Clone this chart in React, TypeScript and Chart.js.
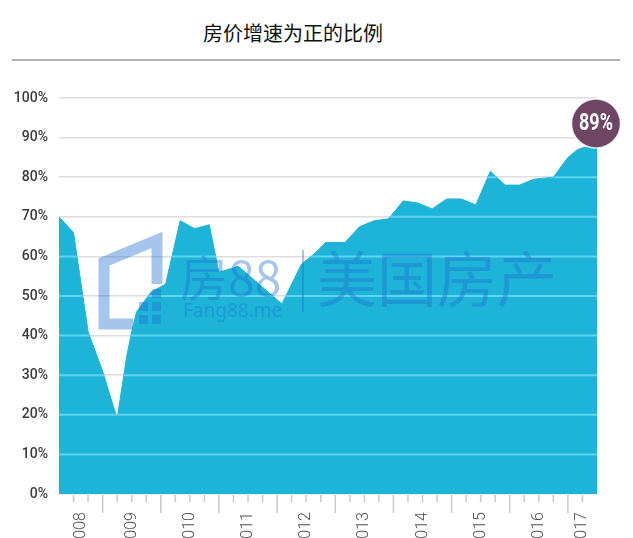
import React, { useEffect, useRef } from 'react';
import { Chart, registerables } from 'chart.js';

Chart.register(...registerables);

// Months counted from January 2008 (0 = 2008-01)
const monthIndex = [3, 6, 9, 12, 15, 17, 18, 19, 22, 25, 28, 31, 34, 36, 40, 49, 53, 56, 58, 62, 65, 68, 71, 74, 77, 80, 83, 86, 89, 92, 95, 98, 101, 105, 108, 110, 114];
// Share of markets with positive house price growth (%)
const shareValues = [70, 66, 41, 31, 19, 35, 41, 46, 51, 53, 69, 67, 68, 56, 57.5, 48, 58, 61, 63.5, 63.5, 67.5, 69, 69.5, 74, 73.5, 72, 74.5, 74.5, 73, 81.5, 78, 78, 79.5, 80, 85, 87, 88.5];
const yearLabels = ['2008', '2009', '2010', '2011', '2012', '2013', '2014', '2015', '2016', '2017'];
const latestLabel = '89%';
const titleText = '房价增速为正的比例';
const watermarkMain = '房88';
const watermarkSub = 'Fang88.me';
const watermarkRight = '美国房产';

const firstMonth = monthIndex[0];
const lastMonth = monthIndex[monthIndex.length - 1];
const labelPositions = yearLabels.map((_, i) => {
  const s = Math.max(i * 12, firstMonth);
  const e = Math.min((i + 1) * 12, lastMonth);
  return (s + e) / 2;
});

const AREA = '#1db4d8';
const INNER_GRID = '#5ed4f0';
const WM = 'rgba(30,110,210,0.40)';

const innerGridPlugin = {
  id: 'innerGrid',
  afterDatasetsDraw(chart: any) {
    const { ctx, chartArea: a, scales } = chart;
    const pts = chart.getDatasetMeta(0).data;
    if (!pts.length) return;
    const base = scales.y.getPixelForValue(0);
    ctx.save();
    ctx.beginPath();
    ctx.moveTo(pts[0].x, base);
    pts.forEach((p: any) => ctx.lineTo(p.x, p.y));
    ctx.lineTo(pts[pts.length - 1].x, base);
    ctx.closePath();
    ctx.clip();
    ctx.strokeStyle = INNER_GRID;
    ctx.lineWidth = 2;
    scales.y.ticks.forEach((t: any) => {
      if (t.value <= 0 || t.value >= 100) return;
      const y = scales.y.getPixelForValue(t.value);
      ctx.beginPath();
      ctx.moveTo(a.left, y);
      ctx.lineTo(a.right, y);
      ctx.stroke();
    });
    ctx.restore();
  },
};

const watermarkPlugin = {
  id: 'watermark',
  afterDatasetsDraw(chart: any) {
    const { ctx, chartArea: a } = chart;
    const ox = a.left;
    const oy = a.top;
    ctx.save();
    ctx.fillStyle = WM;
    ctx.strokeStyle = WM;
    ctx.lineWidth = 11;
    ctx.lineJoin = 'miter';
    ctx.beginPath();
    ctx.moveTo(ox + 74, oy + 226);
    ctx.lineTo(ox + 45, oy + 226);
    ctx.lineTo(ox + 45, oy + 164);
    ctx.lineTo(ox + 98, oy + 142);
    ctx.lineTo(ox + 98, oy + 186);
    ctx.stroke();
    const sq = 9;
    [[93, 191], [93, 204], [93, 217], [80, 204], [80, 217]].forEach(([dx, dy]) => {
      ctx.fillRect(ox + dx, oy + dy, sq, sq);
    });
    ctx.textBaseline = 'alphabetic';
    ctx.textAlign = 'left';
    ctx.font = '48px "Noto Sans CJK SC", "Noto Sans", sans-serif';
    ctx.fillText(watermarkMain, ox + 121, oy + 198);
    ctx.font = '19px "Noto Sans", sans-serif';
    ctx.fillText(watermarkSub, ox + 124, oy + 219);
    ctx.fillRect(ox + 243, oy + 152, 2, 62);
    ctx.font = '60px "Noto Sans CJK SC", sans-serif';
    ctx.fillText(watermarkRight, ox + 258, oy + 204);
    ctx.restore();
  },
};

const quarterTicksPlugin = {
  id: 'quarterTicks',
  afterDraw(chart: any) {
    const { ctx, scales } = chart;
    const x = scales.x;
    const y0 = chart.chartArea.bottom;
    ctx.save();
    ctx.strokeStyle = '#c9c9c9';
    ctx.lineWidth = 1.5;
    for (let m = firstMonth + 1; m < lastMonth; m++) {
      if (m % 3 !== 0) continue;
      const px = x.getPixelForValue(m);
      const len = m % 12 === 0 ? 18 : 7;
      ctx.beginPath();
      ctx.moveTo(px, y0 + 1);
      ctx.lineTo(px, y0 + 1 + len);
      ctx.stroke();
    }
    ctx.restore();
  },
};

const bubblePlugin = {
  id: 'bubble',
  afterDraw(chart: any) {
    const { ctx } = chart;
    const pts = chart.getDatasetMeta(0).data;
    const p = pts[pts.length - 1];
    if (!p) return;
    const r = 24.5;
    const cx = p.x - 1;
    const cy = p.y - 20;
    ctx.save();
    ctx.beginPath();
    ctx.arc(cx, cy, r, 0, Math.PI * 2);
    ctx.fillStyle = '#6e4663';
    ctx.fill();
    ctx.lineWidth = 1.5;
    ctx.strokeStyle = 'rgba(255,255,255,0.8)';
    ctx.stroke();
    ctx.fillStyle = '#ffffff';
    ctx.font = 'bold 23px Roboto, "Noto Sans", sans-serif';
    ctx.textAlign = 'center';
    ctx.textBaseline = 'middle';
    ctx.translate(cx, cy + 1);
    ctx.scale(0.78, 1);
    ctx.fillText(latestLabel, 0, 0);
    ctx.restore();
  },
};

export default function App() {
  const canvasRef = useRef<HTMLCanvasElement | null>(null);

  useEffect(() => {
    if (!canvasRef.current) return;
    const data = monthIndex.map((m, i) => ({ x: m, y: shareValues[i] }));
    const chart = new Chart(canvasRef.current, {
      type: 'line',
      data: {
        datasets: [
          {
            data,
            fill: 'origin',
            backgroundColor: AREA,
            borderColor: AREA,
            borderWidth: 1,
            pointRadius: 0,
            tension: 0,
          },
        ],
      },
      options: {
        animation: false,
        responsive: true,
        maintainAspectRatio: false,
        layout: { padding: { top: 98, left: 0, right: 36, bottom: 0 } },
        plugins: {
          legend: { display: false },
          tooltip: { enabled: false },
          title: { display: false },
        },
        scales: {
          x: {
            type: 'linear',
            min: firstMonth,
            max: lastMonth,
            grid: { display: false, drawTicks: false },
            border: { display: false },
            afterBuildTicks: (scale: any) => {
              scale.ticks = labelPositions.map((value) => ({ value }));
            },
            afterFit: (scale: any) => {
              scale.height = 66;
            },
            ticks: {
              autoSkip: false,
              minRotation: 90,
              maxRotation: 90,
              padding: 18,
              color: '#505050',
              font: { family: 'Roboto, "Noto Sans", sans-serif', size: 16, weight: '300' as any },
              callback: (_v: any, i: number) => yearLabels[i],
            },
          },
          y: {
            min: 0,
            max: 100,
            grid: { color: '#dedede', lineWidth: 1.5, drawTicks: false },
            border: { display: false },
            afterFit: (scale: any) => {
              scale.width = 59;
            },
            ticks: {
              stepSize: 10,
              padding: 11,
              color: '#3a3a3a',
              font: { family: 'Roboto, "Noto Sans", sans-serif', size: 14, weight: '500' as any },
              callback: (v: any) => `${v}%`,
            },
          },
        },
      },
      plugins: [innerGridPlugin, watermarkPlugin, quarterTicksPlugin, bubblePlugin],
    });
    return () => chart.destroy();
  }, []);

  return (
    <div style={{ position: 'fixed', left: 0, top: 0, width: 633, height: 538, overflow: 'hidden', background: '#ffffff' }}>
      <div
        style={{
          position: 'absolute',
          left: 0,
          top: 19,
          width: 586,
          textAlign: 'center',
          fontFamily: '"Noto Sans CJK SC", sans-serif',
          fontSize: 20,
          lineHeight: '28px',
          color: '#111111',
        }}
      >
        {titleText}
      </div>
      <div style={{ position: 'absolute', left: 12, top: 59, width: 608, height: 2, background: '#b3b3b3' }} />
      <div style={{ position: 'absolute', left: 0, top: 0, width: 633, height: 560 }}>
        <canvas ref={canvasRef} />
      </div>
    </div>
  );
}
